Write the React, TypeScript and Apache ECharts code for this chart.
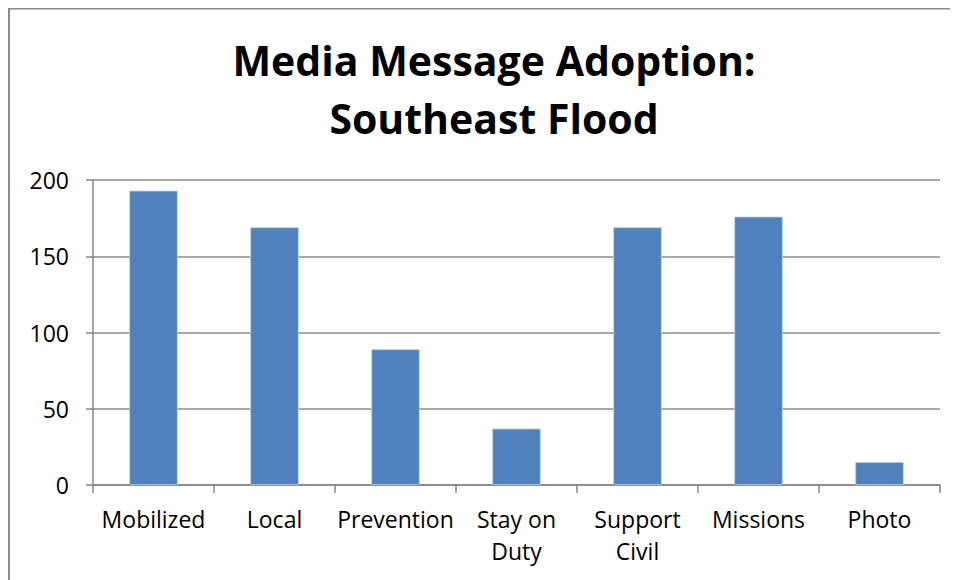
import React, { useEffect, useRef } from "react";
import * as echarts from "echarts";

const categories = ["Mobilized", "Local", "Prevention", "Stay on\nDuty", "Support\nCivil", "Missions", "Photo"];
const adoptionCounts = [193, 169, 89, 37, 169, 176, 15];
const titleLines = ["Media Message Adoption:", "Southeast Flood"];

const FONT = "'Open Sans', 'Noto Sans', sans-serif";

export default function App() {
  const ref = useRef<HTMLDivElement>(null);

  useEffect(() => {
    if (!ref.current) return;
    const chart = echarts.init(ref.current, undefined, { renderer: "svg" });
    chart.setOption({
      animation: false,
      backgroundColor: "#ffffff",
      title: {
        text: titleLines.join("\n"),
        left: 481,
        top: 18,
        textAlign: "center",
        textStyle: {
          fontFamily: FONT,
          fontWeight: "bold",
          fontSize: 41,
          lineHeight: 58,
          color: "#000000",
        },
      },
      graphic: [
        {
          type: "rect",
          shape: { x: 1, y: 0.5, width: 1000, height: 1000 },
          style: { fill: "none", stroke: "#8a8a8a", lineWidth: 2 },
          silent: true,
        },
      ],
      grid: { left: 85, right: 18, top: 172, bottom: 95 },
      xAxis: {
        type: "category",
        data: categories,
        axisLine: { lineStyle: { color: "#868686", width: 1.5 } },
        axisTick: { show: true, length: 8, alignWithLabel: false, lineStyle: { color: "#868686", width: 1.5 } },
        axisLabel: {
          fontFamily: FONT,
          fontSize: 23,
          color: "#000000",
          lineHeight: 32,
          margin: 18,
          interval: 0,
        },
      },
      yAxis: {
        type: "value",
        min: 0,
        max: 200,
        interval: 50,
        axisLine: { show: true, lineStyle: { color: "#868686", width: 1.5 } },
        axisTick: { show: true, length: 7, lineStyle: { color: "#868686", width: 1.5 } },
        splitLine: { lineStyle: { color: "#8c8c8c", width: 1.5 } },
        axisLabel: {
          fontFamily: FONT,
          fontSize: 23,
          color: "#000000",
          margin: 24,
        },
      },
      series: [
        {
          type: "bar",
          data: adoptionCounts,
          barWidth: "40%",
          itemStyle: { color: "#4f81bd", borderColor: "#b9cde5", borderWidth: 0.8 },
        },
      ],
    });
    return () => chart.dispose();
  }, []);

  return <div ref={ref} style={{ width: 950, height: 572 }} />;
}
